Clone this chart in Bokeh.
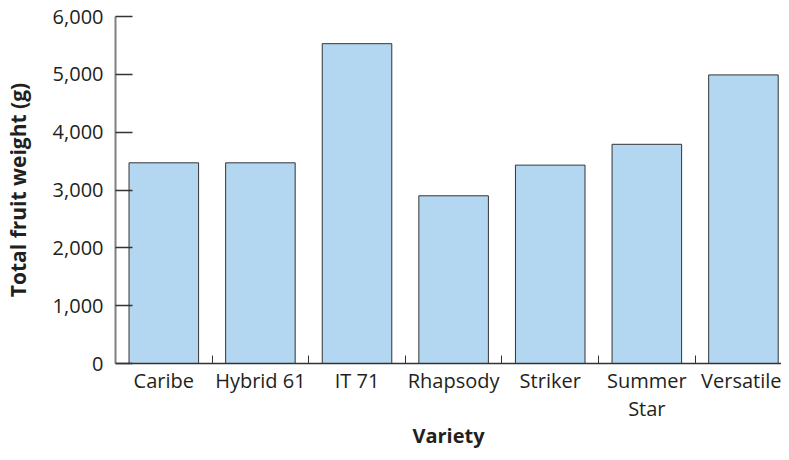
from bokeh.plotting import figure
from bokeh.models import ColumnDataSource, Range1d, FixedTicker, NumeralTickFormatter
from bokeh.embed import file_html
from bokeh.resources import INLINE

varieties = ["Caribe", "Hybrid 61", "IT 71", "Rhapsody", "Striker", "Summer Star", "Versatile"]
weights = [3470, 3470, 5530, 2900, 3430, 3790, 4990]
tick_labels = ["Caribe", "Hybrid 61", "IT 71", "Rhapsody", "Striker", "Summer\nStar", "Versatile"]
y_ticks = [0, 1000, 2000, 3000, 4000, 5000, 6000]

xs = list(range(len(varieties)))
src = ColumnDataSource(dict(x=xs, weight=weights, name=varieties))

FONT = "Open Sans"
TXT = "#231f20"

p = figure(width=781, height=452, output_backend="svg", toolbar_location=None,
           x_range=Range1d(-0.5, 6.394), y_range=Range1d(0, 6000),
           min_border_left=115, min_border_top=16, min_border_right=0, min_border_bottom=84)
p.outline_line_color = None
p.xgrid.visible = False
p.ygrid.visible = False
p.background_fill_color = "white"
p.border_fill_color = "white"

p.vbar(x="x", top="weight", width=0.72, source=src,
       fill_color="#b3d7f0", line_color="#333333", line_width=1)

# x axis
xa = p.xaxis[0]
xa.ticker = FixedTicker(ticks=xs, minor_ticks=[i + 0.5 for i in xs[:-1]])
xa.major_label_overrides = {i: lab for i, lab in zip(xs, tick_labels)}
xa.major_tick_line_color = None
xa.major_tick_in = 0
xa.major_tick_out = 0
xa.minor_tick_in = 8
xa.minor_tick_out = 0
xa.minor_tick_line_color = "#333333"
xa.axis_line_color = "#333333"
xa.axis_line_width = 1.5
xa.major_label_text_font = FONT
xa.major_label_text_font_size = "20px"
xa.major_label_text_color = TXT
xa.major_label_text_line_height = 1.07
xa.major_label_standoff = 3
xa.axis_label = "Variety"
xa.axis_label_text_font = FONT
xa.axis_label_text_font_size = "20px"
xa.axis_label_text_font_style = "bold"
xa.axis_label_text_color = TXT
xa.axis_label_standoff = -3

# y axis
ya = p.yaxis[0]
ya.ticker = FixedTicker(ticks=y_ticks)
ya.formatter = NumeralTickFormatter(format="0,0")
ya.major_tick_in = 17
ya.major_tick_out = 0
ya.major_tick_line_color = "#333333"
ya.major_tick_line_width = 1.5
ya.minor_tick_line_color = None
ya.axis_line_color = "#808080"
ya.axis_line_width = 2
ya.major_label_text_font = FONT
ya.major_label_text_font_size = "20px"
ya.major_label_text_color = TXT
ya.major_label_standoff = 12
ya.axis_label = "Total fruit weight (g)"
ya.axis_label_text_font = FONT
ya.axis_label_text_font_size = "21px"
ya.axis_label_text_font_style = "bold"
ya.axis_label_text_color = TXT
ya.axis_label_standoff = 18

open("out.html", "w").write(file_html(p, INLINE))
